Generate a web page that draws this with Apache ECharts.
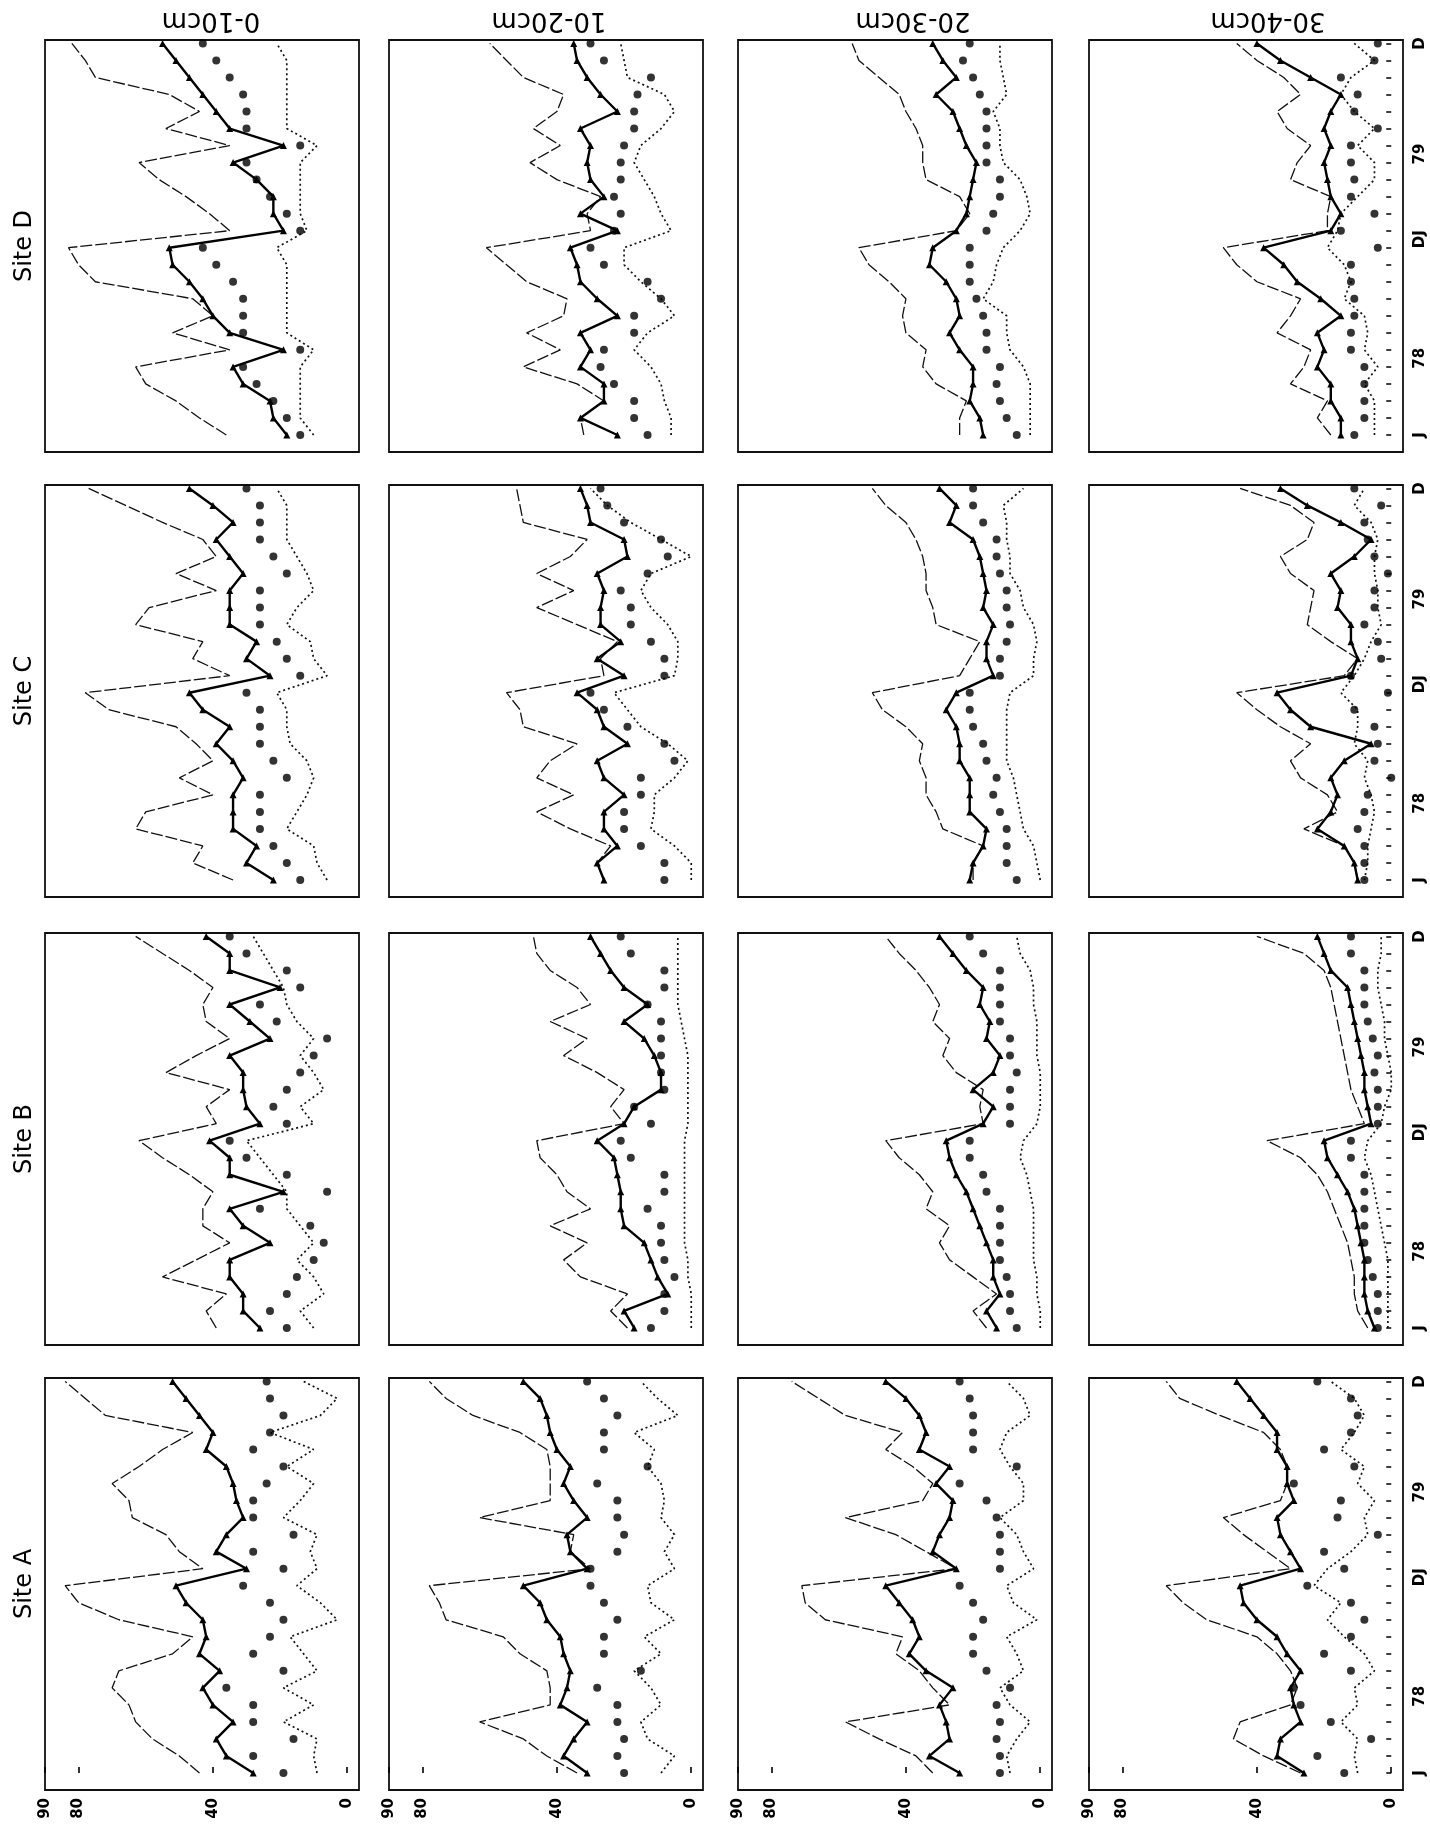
<!DOCTYPE html>
<html><head><meta charset="utf-8">
<script src="https://cdn.jsdelivr.net/npm/echarts@6.0.0/dist/echarts.min.js"></script>
<style>html,body{margin:0;padding:0;background:#fff}#chart{width:1430px;height:1831px}</style>
</head><body><div id="chart"></div>
<script>
// ---------- categories / ticks ----------
const sites = ['Site D', 'Site C', 'Site B', 'Site A'];          // rows, top to bottom
const depths = ['0-10cm', '10-20cm', '20-30cm', '30-40cm'];      // columns, left to right
const monthIndex = [0,1,2,3,4,5,6,7,8,9,10,11,12,13,14,15,16,17,18,19,20,21,22,23]; // Jan 78 .. Dec 79
const timeTickPos = [0, 4.5, 11.5, 16.5, 23];
const timeTickLabels = ['J', '78', 'DJ', '79', 'D'];
const valueTicks = [90, 80, 40, 0];

// ---------- data (values per month, Jan 78 .. Dec 79) ----------
// Site D
const D1_thin   = [36,44,51,60,63,35,52,40,46,75,80,83,35,41,48,56,62,35,54,44,53,75,78,82];
const D1_bold   = [18,22,23,31,34,19,35,40,43,47,52,53,19,22,22,27,34,19,35,39,43,47,51,55];
const D1_dots   = [14,18,22,27,31,14,31,31,31,34,39,43,14,18,23,27,30,14,30,30,31,35,39,43];
const D1_dotted = [10,14,14,14,14,10,18,18,18,18,18,21,12,14,14,14,14,9,18,18,18,18,18,21];
const D2_thin   = [32,33,26,34,50,39,49,38,37,49,55,61,30,31,27,40,48,39,47,40,38,50,55,60];
const D2_bold   = [22,33,26,26,33,30,33,22,28,33,34,36,22,33,26,30,31,30,33,22,27,31,34,35];
const D2_dots   = [13,17,17,23,27,26,17,17,9,13,26,30,23,21,23,21,21,20,17,17,16,12,26,30];
const D2_dotted = [6,6,8,9,12,17,13,5,9,15,20,20,6,9,11,14,17,15,9,5,8,19,20,21];
const D3_thin   = [24,24,22,31,35,34,40,41,40,45,51,54,25,21,24,34,35,35,37,40,42,48,54,56];
const D3_bold   = [17,18,21,20,20,24,27,24,25,28,33,32,25,22,21,20,19,22,24,26,31,25,29,32];
const D3_dots   = [7,10,12,13,12,16,16,17,19,21,21,21,16,14,12,12,16,16,16,16,18,20,23,21];
const D3_dotted = [3,3,3,3,5,9,10,10,17,14,13,11,6,3,4,6,11,12,12,14,10,11,12,12];
const D4_thin   = [18,22,19,30,26,24,34,30,27,40,46,50,19,19,18,30,28,24,31,34,27,32,40,46];
const D4_bold   = [15,15,18,18,22,20,22,15,21,28,32,38,18,15,18,19,20,18,20,18,15,24,33,40];
const D4_dots   = [11,8,8,8,8,12,12,11,11,12,12,4,15,5,12,11,12,12,4,11,10,15,5,4];
const D4_dotted = [5,5,5,8,4,8,7,8,14,12,14,19,16,15,10,5,5,10,5,11,15,12,5,11];
// Site C
const C1_thin   = [34,46,43,63,60,40,50,40,45,51,71,78,35,46,43,63,59,39,51,39,43,55,66,77];
const C1_bold   = [22,30,27,34,34,34,31,34,39,35,43,47,23,30,27,35,35,35,31,35,39,34,40,47];
const C1_dots   = [14,18,22,26,26,26,18,22,26,26,26,30,14,18,21,26,26,26,18,22,26,26,26,30];
const C1_dotted = [6,9,10,18,15,12,10,12,17,18,18,21,6,10,11,18,15,10,12,15,18,18,18,21];
const C2_thin   = [26,28,24,36,46,35,46,42,34,50,51,55,26,27,22,34,46,35,46,36,31,50,51,52];
const C2_bold   = [26,28,22,26,26,20,26,28,19,26,28,34,20,28,21,27,27,26,28,19,20,30,31,33];
const C2_dots   = [8,8,15,20,20,15,15,5,8,19,26,30,8,8,12,18,18,21,13,7,9,20,25,27];
const C2_dotted = [0,0,5,12,11,11,5,1,7,15,19,23,5,4,4,7,12,15,12,0,9,18,25,30];
const C3_thin   = [20,20,17,29,31,34,34,36,35,40,47,50,24,21,18,31,32,34,34,35,37,40,46,50];
const C3_bold   = [21,20,17,16,21,21,21,24,24,25,28,25,14,16,16,14,17,16,17,18,20,27,25,30];
const C3_dots   = [7,10,10,10,12,14,13,16,17,20,21,21,12,12,10,9,10,10,12,13,13,17,20,20];
const C3_dotted = [0,1,2,5,6,7,8,10,10,10,10,9,2,2,1,2,5,6,9,9,10,10,11,5];
const C4_thin   = [10,11,14,26,16,19,27,30,24,33,40,46,14,10,18,25,24,23,30,33,25,23,30,45];
const C4_bold   = [10,11,14,22,18,16,18,14,6,24,30,34,12,10,12,12,16,15,18,11,6,15,25,33];
const C4_dots   = [8,8,8,10,8,7,0,5,4,5,11,1,12,3,4,8,5,5,1,5,7,8,3,11];
const C4_dotted = [8,7,7,6,5,6,8,7,11,10,10,15,11,8,6,3,4,4,5,5,4,6,11,8];
// Site B
const B1_thin   = [39,42,36,55,45,35,43,43,40,47,55,62,39,42,35,54,45,35,42,43,40,47,55,63];
const B1_bold   = [26,31,31,35,35,23,31,35,19,35,35,41,26,30,31,31,35,23,29,35,20,35,35,42];
const B1_dots   = [18,23,18,15,10,7,11,26,6,18,30,35,18,22,18,14,10,6,21,26,14,18,30,35];
const B1_dotted = [10,14,7,10,15,10,14,18,18,22,26,30,10,14,7,10,14,10,15,18,19,22,25,28];
const B2_thin   = [19,24,19,33,38,31,42,30,37,40,45,46,20,24,20,28,38,31,42,30,34,42,46,47];
const B2_bold   = [17,20,7,10,12,14,20,21,21,22,23,28,20,17,9,9,11,14,20,13,20,24,27,30];
const B2_dots   = [12,8,8,5,8,9,9,13,8,8,18,21,12,17,8,9,9,9,9,13,8,8,18,21];
const B2_dotted = [0,0,0,1,1,2,2,2,2,2,2,2,1,1,1,1,1,2,3,4,4,4,4,4];
const B3_thin   = [16,20,13,20,27,30,27,34,32,36,42,46,17,18,17,25,29,27,32,30,33,37,42,46];
const B3_bold   = [13,16,12,14,14,16,18,20,22,25,27,28,17,14,20,14,12,16,15,18,17,22,26,30];
const B3_dots   = [7,9,9,10,12,12,12,12,16,17,21,21,9,9,9,7,9,9,12,12,12,12,17,21];
const B3_dotted = [0,0,1,1,2,2,2,2,3,4,6,5,1,0,0,0,1,1,1,2,2,3,6,7];
const B4_thin   = [7,10,11,11,12,13,15,17,19,22,27,37,8,10,12,13,14,15,16,17,18,20,26,40];
const B4_bold   = [5,7,8,8,8,9,10,11,13,16,19,20,6,7,8,8,9,10,11,12,13,18,20,22];
const B4_dots   = [4,4,4,5.5,7,8,8,8,8,8,12,12,4,4,4,5,4,5.5,7,8,8,8,12,12];
const B4_dotted = [1,1,1,1,1,2,3,4,5,6,8,7,3,2,0,0,1,2,2,3,4,4,3,3];
// Site A
const A1_thin   = [44,50,58,63,65,70,68,52,46,68,80,84,43,50,54,64,65,70,62,55,46,72,78,84];
const A1_bold   = [28,36,39,34,40,43,38,44,42,43,48,51,30,39,36,31,33,34,36,42,40,44,48,52];
const A1_dots   = [19,28,16,28,28,36,19,28,23,19,23,31,19,28,16,28,28,24,19,28,23,19,23,24];
const A1_dotted = [9,10,9,19,10,19,9,13,17,3,8,15,9,11,9,19,14,10,18,10,23,8,3,13];
const A2_thin   = [34,43,50,63,42,42,43,51,56,73,75,78,30,36,35,63,42,42,42,43,51,65,73,78];
const A2_bold   = [31,38,35,31,39,37,36,38,39,43,45,50,31,36,37,31,35,38,36,40,42,43,45,50];
const A2_dots   = [20,22,20,22,22,28,15,26,26,22,26,30,30,22,20,22,22,28,13,26,26,22,26,31];
const A2_dotted = [9,5,13,15,9,12,17,9,14,5,12,13,5,8,5,9,8,9,13,11,17,4,10,15];
const A3_thin   = [32,37,48,58,27,32,36,43,41,64,70,71,25,34,43,58,35,32,38,46,41,58,66,74];
const A3_bold   = [24,33,27,28,30,26,34,39,36,38,42,46,25,32,30,27,26,31,27,36,34,36,40,46];
const A3_dots   = [12,12,13,12,13,9,16,20,20,17,20,24,12,12,12,13,16,24,7,20,20,20,21,24];
const A3_dotted = [9,10,7,3,9,12,5,7,10,1,8,10,2,5,7,12,5,5,9,12,10,3,5,10];
const A4_thin   = [27,38,47,45,30,28,30,34,40,55,62,67,30,37,44,50,33,31,31,33,38,51,63,67];
const A4_bold   = [26,34,33,27,29,30,27,31,34,40,44,45,27,30,33,34,29,31,31,34,34,38,42,46];
const A4_dots   = [14,22,6,18,27,29,12,20,12,8,12,25,14,20,4,16,15,29,11,20,12,10,12,22];
const A4_dotted = [10,11,10,15,10,11,5,8,14,19,15,23,19,12,7,8,5,10,8,15,11,8,11,18];

const panelData = [
  [[D1_thin,D1_bold,D1_dots,D1_dotted],[D2_thin,D2_bold,D2_dots,D2_dotted],[D3_thin,D3_bold,D3_dots,D3_dotted],[D4_thin,D4_bold,D4_dots,D4_dotted]],
  [[C1_thin,C1_bold,C1_dots,C1_dotted],[C2_thin,C2_bold,C2_dots,C2_dotted],[C3_thin,C3_bold,C3_dots,C3_dotted],[C4_thin,C4_bold,C4_dots,C4_dotted]],
  [[B1_thin,B1_bold,B1_dots,B1_dotted],[B2_thin,B2_bold,B2_dots,B2_dotted],[B3_thin,B3_bold,B3_dots,B3_dotted],[B4_thin,B4_bold,B4_dots,B4_dotted]],
  [[A1_thin,A1_bold,A1_dots,A1_dotted],[A2_thin,A2_bold,A2_dots,A2_dotted],[A3_thin,A3_bold,A3_dots,A3_dotted],[A4_thin,A4_bold,A4_dots,A4_dotted]]
];

// ---------- layout ----------
const colLeft = [45, 389, 738, 1089];
const rowTop = [40, 485, 933, 1378];
const panelW = 314, panelH = 412;
const depthLabelX = [211, 549, 913, 1268];
const FONT = '"DejaVu Sans", "Liberation Sans", sans-serif';

const chart = echarts.init(document.getElementById('chart'), null, {renderer: 'canvas'});
const grids = [], xAxes = [], yAxes = [], series = [], graphics = [];

function pairs(vals) { return vals.map((v, i) => [v, monthIndex[i]]); }

for (let r = 0; r < 4; r++) {
  for (let c = 0; c < 4; c++) {
    const gi = r * 4 + c;
    grids.push({left: colLeft[c], top: rowTop[r], width: panelW, height: panelH,
      show: true, borderColor: '#111', borderWidth: 1.8, backgroundColor: 'transparent', containLabel: false});
    const bottomRow = r === 3, rightCol = c === 3;
    xAxes.push({gridIndex: gi, type: 'value', inverse: true, min: -3.5, max: 90, position: 'bottom',
      axisLine: {show: false}, splitLine: {show: false},
      axisTick: {show: bottomRow, inside: true, length: 6, customValues: valueTicks, lineStyle: {color: '#000', width: 1.6}},
      axisLabel: {show: bottomRow, customValues: valueTicks, rotate: 90, margin: 8, color: '#000',
        fontSize: 15, fontWeight: 'bold', fontFamily: FONT}});
    yAxes.push({gridIndex: gi, type: 'value', min: -1, max: 23.2, position: 'right',
      axisLine: {show: false}, splitLine: {show: false},
      axisTick: {show: rightCol, inside: true, length: 5, customValues: monthIndex, lineStyle: {color: '#000', width: 1.5}},
      axisLabel: {show: rightCol, customValues: timeTickPos, rotate: 90, margin: 10, color: '#000',
        fontSize: 15, fontWeight: 'bold', fontFamily: FONT,
        formatter: v => timeTickLabels[timeTickPos.indexOf(v)]}});
    const [thin, bold, dots, dotted] = panelData[r][c];
    series.push({type: 'line', xAxisIndex: gi, yAxisIndex: gi, data: pairs(thin), symbol: 'none',
      lineStyle: {color: '#111', width: 1.3, type: [12, 3]}, silent: true, z: 2});
    series.push({type: 'line', xAxisIndex: gi, yAxisIndex: gi, data: pairs(bold), symbol: 'triangle', symbolSize: 7,
      showAllSymbol: true, itemStyle: {color: '#000'}, lineStyle: {color: '#000', width: 2.4}, silent: true, z: 3});
    series.push({type: 'scatter', xAxisIndex: gi, yAxisIndex: gi, data: pairs(dots), symbol: 'circle', symbolSize: 8,
      itemStyle: {color: '#000'}, silent: true, z: 4});
    series.push({type: 'line', xAxisIndex: gi, yAxisIndex: gi, data: pairs(dotted), symbol: 'none',
      lineStyle: {color: '#111', width: 1.7, type: [2, 3]}, silent: true, z: 2});
  }
}

for (let r = 0; r < 4; r++) {
  graphics.push({type: 'text', x: 25, y: rowTop[r] + panelH / 2, rotation: Math.PI / 2,
    style: {text: sites[r], font: '24px ' + FONT, fill: '#000', align: 'center', verticalAlign: 'middle',
      textAlign: 'center', textVerticalAlign: 'middle'}});
}
for (let c = 0; c < 4; c++) {
  graphics.push({type: 'text', x: depthLabelX[c], y: 20, rotation: Math.PI,
    style: {text: depths[c], font: '26px ' + FONT, fill: '#000', align: 'center', verticalAlign: 'middle',
      textAlign: 'center', textVerticalAlign: 'middle'}});
}

chart.setOption({
  backgroundColor: '#ffffff', animation: false,
  grid: grids, xAxis: xAxes, yAxis: yAxes, series: series, graphic: graphics
});
</script></body></html>
